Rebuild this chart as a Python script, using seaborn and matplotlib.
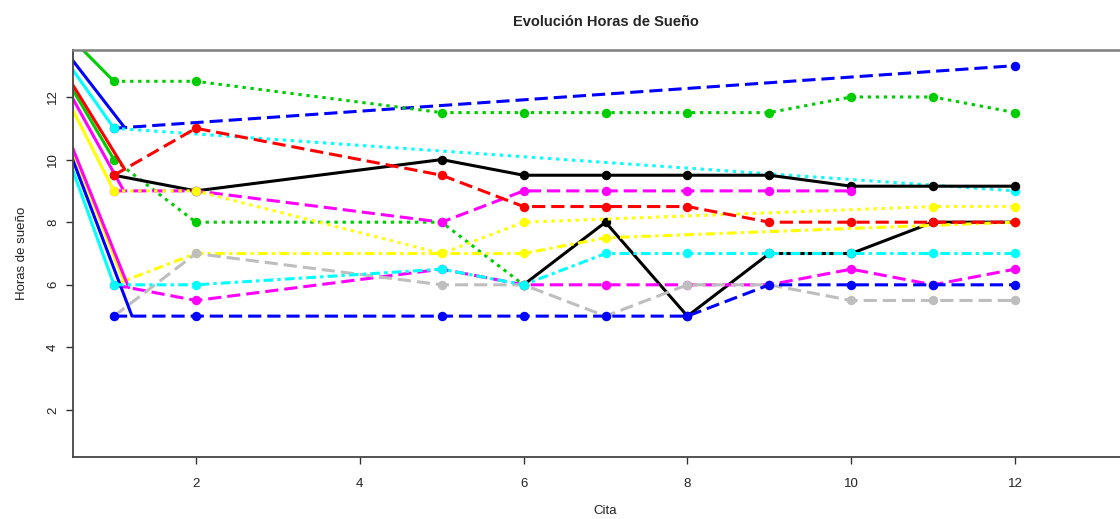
import numpy as np
import pandas as pd
import matplotlib
matplotlib.use("Agg")
import matplotlib.pyplot as plt
import seaborn as sns

sns.set_style("white")
plt.rcParams['font.family'] = ['Liberation Sans', 'DejaVu Sans']
plt.rcParams['lines.scale_dashes'] = False

# --- Data: sleep hours per appointment ("Cita") for each patient ---
blue_top_x = [1, 12]
blue_top_y = [11, 13]
cyan_dot_x = [1, 12]
cyan_dot_y = [11, 9]
green_top_x = [1, 2, 5, 6, 7, 8, 9, 10, 11, 12]
green_top_y = [12.5, 12.5, 11.5, 11.5, 11.5, 11.5, 11.5, 12, 12, 11.5]
green_low_x = [1, 2, 5, 6]
green_low_y = [10, 8, 8, 6]
black_a_x = [1, 2, 5, 6, 7, 8, 9, 10, 11, 12]
black_a_y = [9.5, 9, 10, 9.5, 9.5, 9.5, 9.5, 9.15, 9.15, 9.15]
black_b_x = [6, 7, 8, 9, 10, 11, 12]
black_b_y = [6, 8, 5, 7, 7, 8, 8]
magenta_hi_x = [1, 2, 5, 6, 7, 8, 9, 10]
magenta_hi_y = [9, 9, 8, 9, 9, 9, 9, 9]
yellow_dot_x = [1, 2, 5, 6, 11, 12]
yellow_dot_y = [9, 9, 7, 8, 8.5, 8.5]
yellow_dd_x = [1, 2, 5, 6, 7, 12]
yellow_dd_y = [6, 7, 7, 7, 7.5, 8]
magenta_lo_x = [1, 2, 5, 6, 7, 8, 9, 10, 11, 12]
magenta_lo_y = [6, 5.5, 6.5, 6, 6, 6, 6, 6.5, 6, 6.5]
gray_x = [1, 2, 5, 6, 7, 8, 9, 10, 11, 12]
gray_y = [5, 7, 6, 6, 5, 6, 6, 5.5, 5.5, 5.5]
blue_lo_x = [1, 2, 5, 6, 7, 8, 9, 10, 11, 12]
blue_lo_y = [5, 5, 5, 5, 5, 5, 6, 6, 6, 6]
cyan_dd_x = [1, 2, 5, 6, 7, 8, 9, 10, 11, 12]
cyan_dd_y = [6, 6, 6.5, 6, 7, 7, 7, 7, 7, 7]
red_x = [1, 2, 5, 6, 7, 8, 9, 10, 11, 12]
red_y = [9.5, 11, 9.5, 8.5, 8.5, 8.5, 8, 8, 8, 8]

# common starting point of the solid lead-in lines (outside the plotted range)
origin_x, origin_y = -0.4, 16.2

x_ticks = [2, 4, 6, 8, 10, 12]
y_ticks = [2, 4, 6, 8, 10, 12]

# R-like palette and line types
BLACK, RED, GREEN, BLUE = "#000000", "#FF0000", "#00CD00", "#0000FF"
CYAN, MAGENTA, YELLOW, GRAY = "#00FFFF", "#FF00FF", "#FFFF00", "#BEBEBE"
DASHED = (0, (9.5, 4.3))
DOTTED = (0, (2.4, 3.4))
DOTDASH = (0, (7, 3, 2.4, 3))
SOLID = "-"

# (x, y, colour, linestyle, lead-in end offset or None) in drawing order
series = [
    (blue_top_x, blue_top_y, BLUE, DASHED, 0.13),
    (cyan_dot_x, cyan_dot_y, CYAN, DOTTED, 0.0),
    (green_top_x, green_top_y, GREEN, DOTTED, 0.0),
    (green_low_x, green_low_y, GREEN, DOTTED, 0.0),
    (black_a_x, black_a_y, BLACK, SOLID, None),
    (black_b_x, black_b_y, BLACK, SOLID, None),
    (magenta_hi_x, magenta_hi_y, MAGENTA, DASHED, 0.12),
    (yellow_dot_x, yellow_dot_y, YELLOW, DOTTED, 0.0),
    (yellow_dd_x, yellow_dd_y, YELLOW, DOTDASH, 0.12),
    (magenta_lo_x, magenta_lo_y, MAGENTA, DASHED, 0.18),
    (gray_x, gray_y, GRAY, DASHED, None),
    (blue_lo_x, blue_lo_y, BLUE, DASHED, 0.22),
    (cyan_dd_x, cyan_dd_y, CYAN, DOTDASH, 0.0),
    (red_x, red_y, RED, DASHED, 0.13),
]

fig = plt.figure(figsize=(11.2, 5.19), dpi=100)
ax = fig.add_axes([73 / 1120, 62 / 519, (1138 - 73) / 1120, (457 - 50) / 519])

LW = 2.2
MS = 6.8

for xs, ys, col, ls, lead in series:
    df = pd.DataFrame({"Cita": xs, "Horas": ys})
    if lead is not None:
        ex = xs[0] + lead
        ey = float(np.interp(ex, xs, ys))
        lead_df = pd.DataFrame({"Cita": [origin_x, ex], "Horas": [origin_y, ey]})
        sns.lineplot(data=lead_df, x="Cita", y="Horas", color=col, lw=LW,
                     linestyle="-", ax=ax, legend=False, errorbar=None)
    sns.lineplot(data=df, x="Cita", y="Horas", color=col, lw=LW, linestyle=ls,
                 marker="o", markersize=MS, markeredgewidth=0, ax=ax,
                 legend=False, errorbar=None)

ax.set_xlim(0.5, 13.5)
ax.set_ylim(0.5, 13.5)
ax.set_xticks(x_ticks)
ax.set_yticks(y_ticks)
ax.set_xticklabels([str(t) for t in x_ticks])
ax.set_yticklabels([str(t) for t in y_ticks])

for side in ["left", "bottom", "top", "right"]:
    ax.spines[side].set_visible(True)
    ax.spines[side].set_color("#444444")
    ax.spines[side].set_linewidth(1.3)
ax.spines["top"].set_color("#808080")
ax.spines["top"].set_linewidth(1.8)

ax.tick_params(axis="both", direction="out", length=5, width=1, color="#333333",
               labelsize=9.5, labelcolor="#222222", left=True, bottom=True)
ax.tick_params(axis="x", pad=10)
ax.tick_params(axis="y", pad=5)
for lab in ax.get_yticklabels():
    lab.set_rotation(90)
    lab.set_va("center")

ax.set_xlabel("Cita", fontsize=9.5, labelpad=11, color="#222222")
ax.set_ylabel("Horas de sueño", fontsize=9.5, labelpad=14, color="#222222")
ax.set_title("Evolución Horas de Sueño", fontsize=10.5, fontweight="bold", pad=17)

fig.savefig("out.png", dpi=100)
